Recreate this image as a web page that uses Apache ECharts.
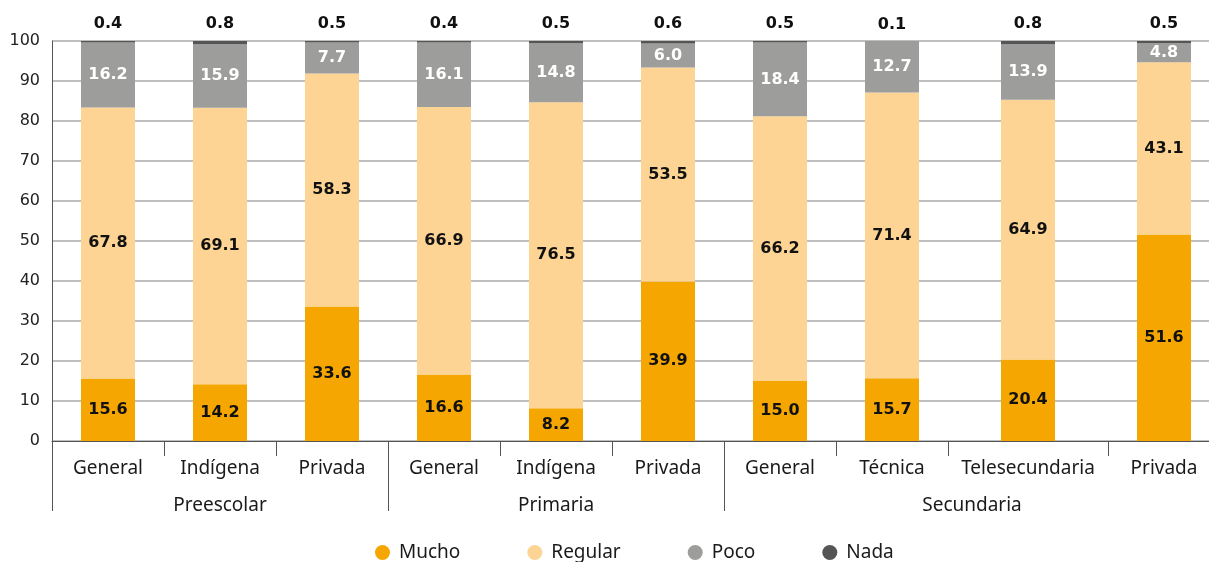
<!DOCTYPE html>
<html>
<head>
<meta charset="utf-8">
<script src="https://cdn.jsdelivr.net/npm/echarts@6/dist/echarts.min.js"></script>
<style>
  html, body { margin: 0; padding: 0; background: #fff; }
  #chart { width: 1209px; height: 562px; }
</style>
</head>
<body>
<div id="chart"></div>
<script>
  // categories
  const tipos = ['General', 'Indígena', 'Privada', 'General', 'Indígena', 'Privada', 'General', 'Técnica', 'Telesecundaria', 'Privada']
  const niveles = ['Preescolar', 'Primaria', 'Secundaria']
  const tiposPorNivel = [3, 3, 4]

  // series values (%)
  const mucho = [15.6, 14.2, 33.6, 16.6, 8.2, 39.9, 15.0, 15.7, 20.4, 51.6]
  const regular = [67.8, 69.1, 58.3, 66.9, 76.5, 53.5, 66.2, 71.4, 64.9, 43.1]
  const poco = [16.2, 15.9, 7.7, 16.1, 14.8, 6.0, 18.4, 12.7, 13.9, 4.8]
  const nada = [0.4, 0.8, 0.5, 0.4, 0.5, 0.6, 0.5, 0.1, 0.8, 0.5]

  const yTicks = [0, 10, 20, 30, 40, 50, 60, 70, 80, 90, 100]

  // layout: each category gets its own slot (Telesecundaria is wider)
  const W = 1209
  const plotLeft = 52
  const slotWidths = [112, 112, 112, 112, 112, 112, 112, 112, 160, 112]

  const font = 'Noto Sans'
  const valFont = 'DejaVu Sans'
  const axisColor = '#555'

  const chart = echarts.init(document.getElementById('chart'))

  const niveles_series = [
    { name: 'Mucho', data: mucho, color: '#f5a600', label: { position: 'inside', color: '#111' } },
    { name: 'Regular', data: regular, color: '#fdd493', label: { position: 'inside', color: '#111' } },
    { name: 'Poco', data: poco, color: '#9d9d9b', label: { position: 'inside', color: '#fff' } },
    { name: 'Nada', data: nada, color: '#555555', label: { position: 'top', distance: 9, color: '#111' } }
  ]

  let grid = [], xAxis = [], yAxis = [], series = []
  let x = plotLeft
  for (let i = 0; i < tipos.length; i++) {
    // the last slot runs past the canvas edge, so no outer bounds clamp
    grid.push({
      left: x, width: slotWidths[i], top: 41, bottom: 121,
      outerBoundsMode: 'none'
    })
    x += slotWidths[i]
    xAxis.push({
      gridIndex: i,
      type: 'category',
      data: [tipos[i]],
      axisLine: { lineStyle: { color: axisColor } },
      axisTick: { show: true, length: 15, lineStyle: { color: axisColor } },
      axisLabel: { margin: 18, fontFamily: font, fontSize: 19, color: '#1a1a1a', interval: 0 }
    })
    yAxis.push({
      gridIndex: i,
      type: 'value',
      min: 0,
      max: 100,
      interval: 10,
      axisLine: { show: i === 0, lineStyle: { color: axisColor } },
      axisTick: { show: false },
      axisLabel: {
        show: i === 0,
        margin: 12,
        fontFamily: valFont,
        fontSize: 16,
        color: '#222',
        formatter: v => yTicks.indexOf(v) >= 0 ? String(v) : ''
      },
      splitLine: { lineStyle: { color: '#aaa', width: 1.5 } }
    })
    niveles_series.forEach(s => {
      series.push({
        name: s.name,
        type: 'bar',
        xAxisIndex: i,
        yAxisIndex: i,
        stack: 'c' + i,
        barWidth: 54,
        data: [s.data[i]],
        itemStyle: { color: s.color },
        label: Object.assign({
          show: true,
          formatter: p => p.value.toFixed(1),
          fontFamily: valFont,
          fontWeight: 'bold',
          fontSize: 16
        }, s.label)
      })
    })
  }

  // group axes (Preescolar / Primaria / Secundaria)
  let start = 0
  x = plotLeft
  niveles.forEach((n, g) => {
    let w = 0
    for (let k = start; k < start + tiposPorNivel[g]; k++) w += slotWidths[k]
    start += tiposPorNivel[g]
    const gi = grid.length
    grid.push({ left: x, width: w, top: 41, bottom: 121, outerBoundsMode: 'none' })
    x += w
    xAxis.push({
      gridIndex: gi,
      type: 'category',
      data: [n],
      axisLine: { show: false },
      axisTick: { show: true, length: 70, lineStyle: { color: axisColor } },
      axisLabel: { margin: 55, fontFamily: font, fontSize: 19, color: '#1a1a1a' }
    })
    yAxis.push({ gridIndex: gi, type: 'value', min: 0, max: 100, show: false })
  })

  chart.setOption({
    animation: false,
    legend: {
      top: 538,
      left: 370,
      icon: 'circle',
      itemWidth: 15,
      itemHeight: 15,
      itemGap: 67,
      textStyle: { fontFamily: font, fontSize: 19, color: '#1a1a1a', padding: [0, 0, 0, 4] },
      data: ['Mucho', 'Regular', 'Poco', 'Nada']
    },
    grid: grid,
    xAxis: xAxis,
    yAxis: yAxis,
    series: series
  })
</script>
</body>
</html>
